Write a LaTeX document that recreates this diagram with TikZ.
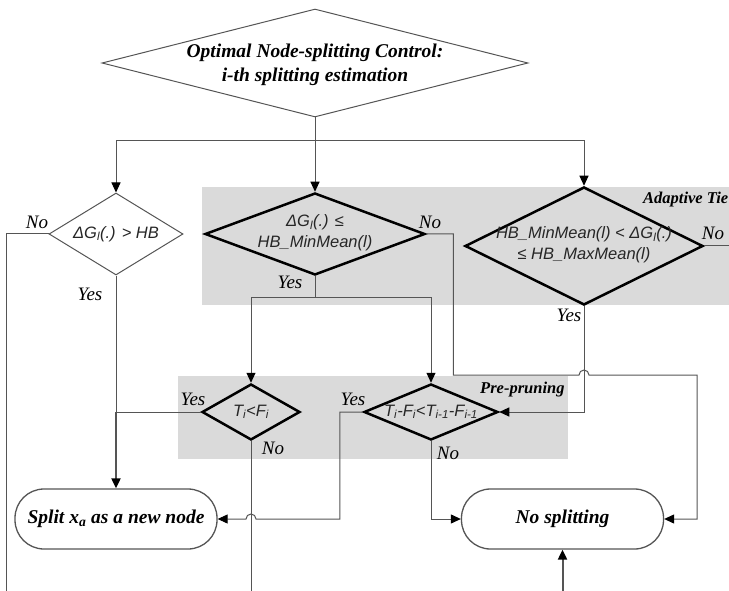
\documentclass[tikz,border=0pt]{standalone}
\usepackage{fontspec}
\setmainfont{Liberation Serif}
\newfontfamily\arialfont{Liberation Sans}
\usepackage{tikz}
\usetikzlibrary{shapes.geometric,arrows.meta}
\definecolor{tiegray}{RGB}{218,218,218}
\definecolor{linegray}{RGB}{85,85,85}

\begin{document}
\begin{tikzpicture}[x=1pt,y=-1pt,
      dia/.style={shape=diamond,inner sep=0pt},
      thindia/.style={dia,draw=linegray,line width=1pt,fill=white},
      thickdia/.style={dia,draw=black,line width=2.5pt},
      term/.style={draw=linegray,line width=1.3pt,rounded corners=29pt,fill=white,
        minimum width=202pt,minimum height=60pt,inner sep=0pt,
        font=\fontsize{19.5}{22}\selectfont\bfseries\itshape},
      zone/.style={fill=tiegray,draw=none},
      ztitle/.style={font=\fontsize{16.5}{18}\selectfont\bfseries\itshape,anchor=west,inner sep=0pt},
      cond/.style={font=\arialfont\fontsize{16.5}{21}\selectfont\itshape,align=center,inner sep=0pt,text=black!85},
      ans/.style={font=\fontsize{19}{20}\selectfont\itshape,inner sep=0pt},
      conn/.style={draw=linegray,line width=1pt},
      arr/.style={conn,-{Triangle[length=10pt,width=9pt,color=black]}}]
    \useasboundingbox (0,0) rectangle (729,591);
    \clip (0,0) rectangle (729,591);
    % shaded zones
    \path[zone] (202,187) rectangle (729,305);
    \path[zone] (178,376) rectangle (568,459);
    \node[ztitle](tietitle) at (643,200){Adaptive Tie};
    \node[ztitle](pretitle) at (480,390){Pre-pruning};
    % decisions
    \node[thindia,minimum width=426pt,minimum height=108pt](ctrl) at (315,63){};
    \node[font=\fontsize{19.5}{24}\selectfont\bfseries\itshape,align=center,inner sep=0pt](ctrltext) at (315,65)
      {Optimal Node-splitting Control:\\ i-th splitting estimation};
    \node[thindia,minimum width=134pt,minimum height=82pt](gainhb) at (116,234){};
    \node[cond](gainhbtext) at (116,234){ΔG\textsubscript{l}(.) > HB};
    \node[thickdia,minimum width=220pt,minimum height=82pt](gainmin) at (315,234){};
    \node[cond](gainmintext) at (315,233){ΔG\textsubscript{l}(.) ≤\\ HB\_MinMean(l)};
    \node[thickdia,minimum width=238pt,minimum height=118pt](gaintie) at (584,246){};
    \node[cond](gaintietext) at (584,245){HB\_MinMean(l) < ΔG\textsubscript{l}(.)\\ ≤ HB\_MaxMean(l)};
    \node[thickdia,minimum width=98pt,minimum height=56pt](tflt) at (251,412){};
    \node[cond](tflttext) at (251,412){T\textsubscript{i}<F\textsubscript{i}};
    \node[thickdia,minimum width=134pt,minimum height=56pt](tfdiff) at (431,412){};
    \node[cond](tfdifftext) at (431,412){T\textsubscript{i}-F\textsubscript{i}<T\textsubscript{i-1}-F\textsubscript{i-1}};
    % terminals
    \node[term](split) at (116,519){Split x\textsubscript{a} as a new node};
    \node[term](nosplit) at (562.5,519){No splitting};
    % yes / no
    \node[ans](hbno) at (37,222){No};
    \node[ans](hbyes) at (90,294){Yes};
    \node[ans](minno) at (430,222){No};
    \node[ans](minyes) at (290,282){Yes};
    \node[ans](tieno) at (713,233){No};
    \node[ans](tieyes) at (569,315){Yes};
    \node[ans](ltyes) at (193,399){Yes};
    \node[ans](ltno) at (273,448){No};
    \node[ans](diffyes) at (353,399){Yes};
    \node[ans](diffno) at (448,453){No};
    % connectors
    \coordinate(fork) at (315,141);
    \coordinate(yesjoin) at (116,412);
    \coordinate(minjoin) at (315,297);
    \coordinate(leftend) at (6,600);
    \coordinate(rightend) at (740,246);
    \coordinate(midend) at (251,600);
    \coordinate(botend) at (562.5,600);
    \draw[arr](ctrl.south)--(gainmin.north);
    \draw[arr](fork)-|(gainhb.north);
    \draw[arr](fork)-|(gaintie.north);
    \draw[conn](gainhb.west)-|(leftend);
    \draw[conn](gainhb.south)--(yesjoin);
    \draw[conn](tflt.west)--(yesjoin);
    \draw[arr,line width=2pt](yesjoin)--(split.north);
    \draw[conn](gainmin.south)--(minjoin);
    \draw[arr](minjoin)-|(tflt.north);
    \draw[arr](minjoin)-|(tfdiff.north);
    \draw[arr](gainmin.east)--++(27,0)|-(579,375)
      arc[start angle=180,end angle=0,radius=5pt]--(697,375)|-(nosplit.east);
    \draw[conn](gaintie.east)--(rightend);
    \draw[arr](gaintie.south)|-(tfdiff.east);
    \draw[conn](tflt.south)--(midend);
    \draw[arr](tfdiff.west)--++(-23,0)|-(256,519)
      arc[start angle=0,end angle=180,radius=5pt]--(split.east);
    \draw[arr](tfdiff.south)|-(nosplit.west);
    \draw[arr,line width=2pt](botend)--(nosplit.south);
  \end{tikzpicture}
\end{document}
